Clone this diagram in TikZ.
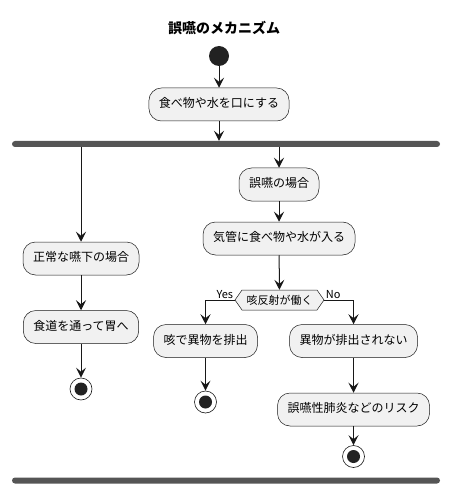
\documentclass[tikz,border=0pt]{standalone}
\usepackage{fontspec}
\setmainfont{Noto Sans CJK JP}
\usetikzlibrary{arrows.meta}

\definecolor{boxfill}{HTML}{F1F1F1}
\definecolor{boxline}{HTML}{181818}
\definecolor{barfill}{HTML}{555555}
\definecolor{dotfill}{HTML}{222222}

\tikzset{
  act/.style={draw=boxline,fill=boxfill,line width=0.5pt,rounded corners=12.5pt,minimum height=33pt,inner xsep=10pt,font=\fontsize{12}{14}\selectfont,text height=9pt,text depth=2.5pt},
  flow/.style={draw=boxline,line width=1pt,-{Stealth[length=10pt,width=10pt,inset=4pt]}},
  bar/.style={fill=barfill,rounded corners=3pt,minimum width=428pt,minimum height=6pt,inner sep=0pt},
  startdot/.style={circle,fill=dotfill,minimum size=20pt,inner sep=0pt},
  enddot/.style={circle,draw=boxline,fill=white,line width=0.6pt,minimum size=22pt,inner sep=0pt,path picture={\fill[dotfill] (path picture bounding box.center) circle (6.5pt);}},
  small/.style={font=\fontsize{11}{13}\selectfont}
}

\begin{document}
\begin{tikzpicture}[x=1pt,y=-1pt]
\useasboundingbox (0,0) rectangle (451,494);

\node[font=\fontsize{14}{16}\selectfont\bfseries] (title) at (224,28) {誤嚥のメカニズム};

\node[startdot] (start) at (219,56) {};
\node[act] (eat) at (219,104.5) {食べ物や水を口にする};
\node[bar] (fork) at (226,144) {};

\node[act] (normal) at (81,258.5) {正常な嚥下の場合};
\node[act] (esoph) at (81,327) {食道を通って胃へ};
\node[enddot] (endA) at (81,389) {};

\node[act] (aspir) at (279,184.5) {誤嚥の場合};
\node[act] (trachea) at (279,238.5) {気管に食べ物や水が入る};

\draw[boxline,fill=boxfill,line width=0.5pt] (235,300) -- (242,290) -- (317,290) -- (324,300) -- (317,310) -- (242,310) -- cycle;
\node[small,minimum width=89pt,minimum height=20pt,inner sep=0pt] (cough) at (279.5,300) {咳反射が働く};

\node[act] (expel) at (205.5,341) {咳で異物を排出};
\node[enddot] (endB) at (205.5,402) {};
\node[act] (noexpel) at (353.5,341) {異物が排出されない};
\node[act] (risk) at (353.5,409.5) {誤嚥性肺炎などのリスク};
\node[enddot] (endC) at (353.5,456.5) {};

\node[bar] (join) at (226,480.5) {};

\node[small,anchor=south east,inner sep=1.5pt] (yes) at (cough.west) {Yes};
\node[small,anchor=south west,inner sep=1.5pt] (no) at (cough.east) {No};

\draw[flow] (start) -- (eat);
\draw[flow] (eat) -- (eat |- fork.north);
\draw[flow] (fork.south -| normal) -- (normal);
\draw[flow] (normal) -- (esoph);
\draw[flow] (esoph) -- (endA);
\draw[flow] (fork.south -| aspir) -- (aspir);
\draw[flow] (aspir) -- (trachea);
\draw[flow] (trachea) -- (cough);
\draw[flow] (cough.west) -| (expel);
\draw[flow] (cough.east) -| (noexpel);
\draw[flow] (expel) -- (endB);
\draw[flow] (noexpel) -- (risk);
\draw[flow] (risk) -- (endC);

\end{tikzpicture}
\end{document}
